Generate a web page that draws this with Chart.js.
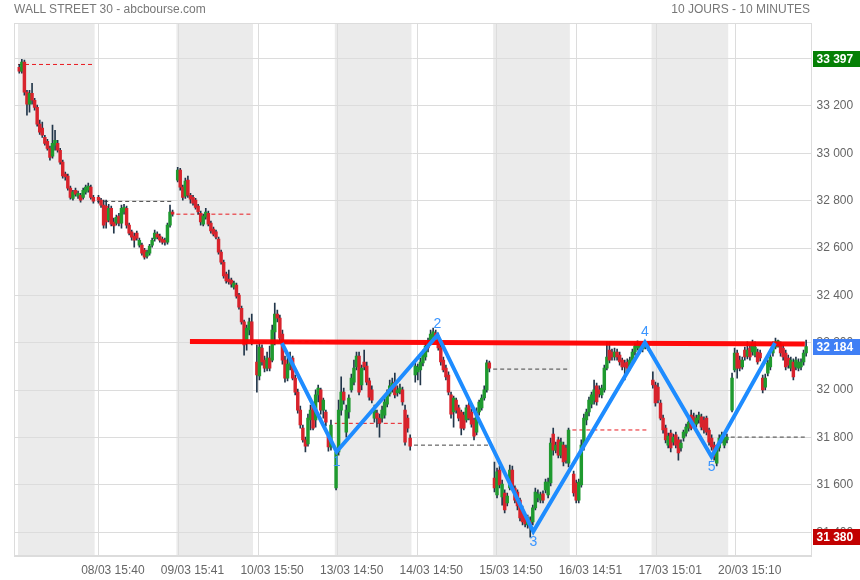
<!DOCTYPE html>
<html><head><meta charset="utf-8">
<script src="https://cdn.jsdelivr.net/npm/chart.js@4/dist/chart.umd.min.js"></script>
<style>
html,body{margin:0;padding:0;background:#fff;}
#wrap{position:relative;width:860px;height:580px;overflow:hidden;}
canvas{position:absolute;left:0;top:0;}
.t{position:absolute;top:2px;font:12px "Liberation Sans",Arial,sans-serif;color:#777;white-space:nowrap;}
</style></head><body>
<div id="wrap">
<canvas id="c" width="860" height="580"></canvas>
<div class="t" style="left:14px">WALL STREET 30 - abcbourse.com</div>
<div class="t" style="right:50px">10 JOURS - 10 MINUTES</div>
</div>
<script>
// ---------- DATA ----------
const sessionNames = ['07/03','08/03','09/03','10/03','13/03','14/03','15/03','16/03','17/03','20/03'];
const xTickLabels = ['08/03 15:40','09/03 15:41','10/03 15:50','13/03 14:50','14/03 14:50','15/03 14:50','16/03 14:51','17/03 15:01','20/03 15:10'];
const yTickValues = [31400,31600,31800,32000,32200,32400,32600,32800,33000,33200,33400];

// candles: [open, high, low, close]
const d0703 = [[33363,33376,33338,33347],[33347,33397,33338,33385],[33385,33393,33245,33258],[33258,33266,33161,33207],[33207,33266,33174,33253],[33253,33295,33207,33224],[33224,33232,33182,33194],[33194,33203,33115,33123],[33123,33140,33080,33089],[33106,33132,33067,33076],[33067,33076,33034,33042],[33051,33059,33013,33021],[33021,33030,32971,32983],[32988,33119,32979,33042],[33034,33097,33013,33055],[33042,33055,33005,33013],[33013,33021,32954,32963],[32963,32971,32895,32904],[32912,32921,32887,32900],[32904,32912,32844,32853],[32853,32862,32806,32814],[32810,32844,32802,32836],[32844,32853,32819,32827],[32819,32840,32810,32831],[32823,32831,32794,32802],[32814,32853,32806,32844],[32836,32866,32827,32857],[32844,32874,32836,32862],[32857,32866,32806,32814],[32814,32823,32789,32798]];
const d0803 = [[32814,32823,32789,32802],[32802,32810,32772,32781],[32781,32802,32684,32697],[32777,32802,32684,32710],[32718,32785,32710,32768],[32768,32777,32693,32701],[32710,32726,32663,32693],[32705,32739,32697,32730],[32735,32747,32693,32705],[32705,32781,32684,32768],[32752,32785,32743,32772],[32768,32777,32684,32697],[32697,32705,32655,32663],[32668,32676,32633,32646],[32651,32663,32604,32633],[32663,32672,32633,32642],[32612,32642,32604,32633],[32612,32621,32570,32578],[32591,32599,32553,32561],[32566,32591,32557,32583],[32578,32616,32570,32608],[32612,32642,32604,32633],[32638,32676,32629,32663],[32659,32668,32638,32646],[32651,32659,32625,32633],[32638,32646,32616,32625],[32633,32642,32612,32625],[32625,32705,32616,32697],[32697,32781,32688,32752],[32752,32760,32735,32743]];
const d0903 = [[32887,32941,32879,32929],[32929,32937,32844,32857],[32857,32866,32802,32814],[32819,32895,32810,32883],[32887,32904,32814,32823],[32823,32831,32789,32806],[32814,32823,32781,32789],[32802,32810,32764,32772],[32777,32785,32743,32752],[32747,32756,32697,32710],[32701,32743,32693,32735],[32730,32768,32722,32752],[32747,32756,32693,32701],[32705,32714,32663,32672],[32680,32688,32651,32659],[32668,32676,32638,32646],[32638,32646,32574,32583],[32583,32591,32532,32540],[32540,32549,32473,32482],[32490,32499,32452,32461],[32469,32507,32448,32457],[32465,32473,32435,32448],[32435,32461,32426,32452],[32444,32452,32388,32397],[32401,32409,32342,32350],[32346,32355,32279,32288],[32288,32296,32148,32191],[32204,32275,32169,32262],[32254,32304,32233,32288],[32288,32321,32191,32204]];
const d1003 = [[32119,32191,31992,32064],[32060,32199,32043,32182],[32178,32191,32106,32119],[32127,32144,32077,32093],[32093,32161,32081,32136],[32136,32186,32081,32093],[32127,32275,32119,32254],[32246,32368,32191,32321],[32321,32338,32288,32304],[32304,32317,32204,32220],[32237,32254,32110,32127],[32127,32144,32034,32051],[32051,32148,32039,32110],[32106,32161,32085,32136],[32136,32144,32043,32051],[32051,32064,31980,31992],[31992,32005,31903,31916],[31916,31933,31840,31853],[31840,31853,31781,31790],[31790,31802,31739,31764],[31773,31899,31764,31882],[31874,31937,31832,31916],[31937,31950,31832,31840],[31874,32001,31844,31980],[31980,32022,31950,32009],[32001,32009,31899,31916],[31916,31967,31882,31958],[31908,31916,31849,31865],[31806,31819,31743,31760],[31760,31874,31747,31853]];
const d1303 = [[31587,31756,31579,31739],[31739,31958,31726,31916],[31916,32056,31895,31992],[31992,32009,31941,31958],[31823,31937,31802,31916],[31908,31980,31882,31967],[32001,32068,31992,32051],[32034,32127,32022,32093],[32098,32161,32085,32144],[32144,32161,31980,31992],[32022,32106,32001,32093],[32119,32169,32085,32098],[32102,32119,32022,32034],[32039,32051,31958,31971],[32001,32018,31946,31958],[31882,31937,31865,31916],[31903,31916,31844,31882],[31882,31899,31802,31861],[31882,31933,31865,31916],[31895,31963,31882,31950],[31941,32001,31929,31984],[31984,32043,31975,32018],[32005,32051,31992,32030],[32034,32072,31967,31980],[31988,32018,31975,32001],[31992,32026,31984,32009],[32001,32013,31937,31950],[31916,31937,31768,31781],[31882,31895,31823,31840],[31798,31811,31747,31764]];
const d1403 = [[32064,32119,32034,32102],[32077,32110,32043,32098],[32085,32136,32022,32119],[32115,32169,32102,32148],[32140,32199,32127,32186],[32199,32220,32161,32178],[32204,32254,32191,32237],[32224,32262,32216,32246],[32241,32254,32208,32220],[32229,32241,32169,32178],[32182,32191,32106,32119],[32127,32140,32077,32085],[32093,32106,32043,32056],[32064,32077,31980,31992],[31980,31992,31882,31899],[31908,31975,31844,31967],[31958,31967,31903,31916],[31925,31937,31870,31882],[31908,31916,31811,31840],[31895,31908,31832,31840],[31874,31937,31865,31925],[31937,31958,31874,31882],[31908,31920,31844,31857],[31874,31882,31790,31806],[31823,31925,31811,31908],[31908,31958,31895,31950],[31925,31980,31916,31967],[31967,32018,31958,32001],[32001,32127,31992,32115],[32115,32123,32077,32093]];
const d1503 = [[31629,31696,31570,31587],[31558,31671,31545,31655],[31663,31680,31587,31600],[31549,31621,31515,31604],[31566,31579,31482,31494],[31524,31566,31511,31553],[31587,31684,31579,31663],[31663,31680,31579,31591],[31587,31596,31524,31536],[31570,31579,31494,31511],[31536,31545,31448,31461],[31494,31511,31431,31444],[31465,31477,31423,31435],[31431,31473,31418,31461],[31452,31465,31380,31423],[31444,31515,31431,31503],[31503,31587,31494,31570],[31545,31579,31528,31562],[31536,31570,31524,31558],[31562,31575,31524,31536],[31579,31625,31566,31612],[31558,31629,31545,31612],[31608,31798,31596,31777],[31815,31840,31726,31747],[31747,31781,31735,31768],[31790,31802,31714,31726],[31726,31798,31714,31781],[31768,31781,31680,31697],[31756,31768,31692,31705],[31692,31840,31676,31832]];
const d1603 = [[31646,31659,31553,31566],[31608,31621,31524,31536],[31536,31625,31524,31612],[31600,31790,31591,31768],[31768,31899,31747,31882],[31874,31920,31853,31908],[31908,31971,31891,31958],[31941,31992,31925,31980],[31958,32043,31941,32001],[32018,32030,31937,31950],[32001,32018,31971,31984],[31980,32022,31967,32009],[32001,32106,31992,32093],[32093,32204,32085,32140],[32169,32204,32115,32127],[32161,32174,32127,32140],[32140,32178,32127,32161],[32161,32174,32127,32140],[32148,32161,32106,32119],[32127,32136,32085,32098],[32115,32127,32043,32098],[32119,32132,32081,32093],[32098,32140,32085,32127],[32127,32174,32115,32161],[32161,32199,32148,32186],[32178,32208,32169,32195],[32169,32199,32157,32186],[32174,32204,32161,32191],[32182,32208,32174,32195],[32186,32199,32169,32178]];
const d1703 = [[32043,32077,32009,32022],[32022,32034,31933,31946],[32013,32030,31946,31958],[31946,31958,31874,31882],[31882,31895,31819,31832],[31840,31853,31777,31790],[31768,31819,31756,31806],[31819,31832,31739,31756],[31781,31815,31768,31802],[31811,31823,31756,31768],[31790,31802,31705,31735],[31756,31790,31743,31777],[31798,31832,31785,31823],[31819,31857,31806,31844],[31840,31878,31827,31865],[31895,31916,31832,31840],[31887,31903,31849,31861],[31857,31895,31844,31882],[31874,31908,31861,31895],[31887,31899,31832,31844],[31874,31887,31819,31832],[31882,31891,31811,31823],[31832,31840,31768,31781],[31798,31811,31747,31760],[31768,31781,31705,31718],[31692,31768,31680,31756],[31756,31811,31743,31798],[31790,31823,31777,31811],[31768,31815,31756,31802],[31790,31815,31777,31802]];
const d2003 = [[31916,32072,31908,32051],[32085,32178,32077,32157],[32157,32169,32051,32093],[32127,32144,32081,32093],[32098,32140,32089,32127],[32169,32182,32127,32140],[32144,32204,32132,32169],[32178,32191,32127,32140],[32161,32212,32148,32199],[32148,32204,32140,32182],[32161,32174,32110,32119],[32157,32169,32123,32136],[32051,32064,31988,32001],[32013,32068,32001,32051],[32072,32127,32060,32115],[32098,32153,32085,32140],[32157,32204,32144,32191],[32182,32220,32174,32204],[32191,32212,32182,32208],[32191,32204,32144,32157],[32178,32191,32127,32140],[32157,32169,32085,32098],[32136,32148,32093,32106],[32093,32140,32081,32127],[32119,32132,32043,32056],[32098,32140,32085,32127],[32093,32132,32081,32119],[32098,32132,32085,32119],[32119,32169,32106,32157],[32157,32212,32144,32184]];
const sessions = [d0703,d0803,d0903,d1003,d1303,d1403,d1503,d1603,d1703,d2003];

// previous-close reference level drawn on each session (null = none)
const prevClose = [33375,32797,32743,32204,31860,31768,32089,31832,null,31802];
const prevCloseDark = [false,true,false,false,false,true,true,false,false,true];

// wave pattern (candle index, price)
const waveIdx = [102.8,124.2,163.7,201.2,244.9,271.0,295.8];
const waveVal = [32199,31740,32233,31403,32201,31719,32199];
const waveLbl = ['','1','2','3','4','5',''];
// resistance line
const resIdx = [66.8,307.5];
const resVal = [32205,32195];

const lastPrice = 32184, highPrice = 33397, lowPrice = 31380;

// ---------- BUILD ----------
const SLOTS = 31;
const GREEN = '#1f9a2f', RED = '#d8232c', WICK = '#22364a';
const wicks = [], bodies = [], bodyCol = [];
sessions.forEach((d,k)=>d.forEach((c,j)=>{
  const x = k*SLOTS + j;
  wicks.push({x, y:[c[2], c[1]]});
  bodies.push({x, y:[c[0], c[3]]});
  bodyCol.push(c[3] >= c[0] ? GREEN : RED);
}));
const dashRed = [], dashDark = [];
prevClose.forEach((v,k)=>{
  if (v == null) return;
  const arr = prevCloseDark[k] ? dashDark : dashRed;
  arr.push({x:k*SLOTS-0.5, y:v},{x:k*SLOTS+29.5, y:v},{x:k*SLOTS+29.7, y:null});
});
const wave = waveIdx.map((x,i)=>({x, y:waveVal[i]}));
const res = resIdx.map((x,i)=>({x, y:resVal[i]}));

const fmt = v => String(v).replace(/\B(?=(\d{3})+(?!\d))/g,' ');
const FONT = '"Liberation Sans", Arial, sans-serif';

const bandsPlugin = {
  id:'bands',
  beforeDraw(ch){
    const {ctx, chartArea:a, scales:{x}} = ch;
    ctx.save();
    ctx.fillStyle = '#ebebeb';
    for (let k=0;k<sessions.length;k+=2){
      const x0 = x.getPixelForValue(k*SLOTS-0.5), x1 = x.getPixelForValue(k*SLOTS+29.5);
      ctx.fillRect(x0, a.top, x1-x0, a.bottom-a.top);
    }
    ctx.restore();
  },
  beforeDatasetsDraw(ch){
    const {ctx, chartArea:a} = ch;
    ctx.save();
    ctx.strokeStyle = '#dcdcdc'; ctx.lineWidth = 1;
    ctx.strokeRect(Math.round(a.left)+0.5, Math.round(a.top)+0.5, Math.round(a.right-a.left)-1, Math.round(a.bottom-a.top)-1);
    ctx.restore();
  },
  afterDraw(ch){
    const {ctx, chartArea:a, scales:{x,y}} = ch;
    ctx.save();
    // wave labels
    ctx.font = '14px ' + FONT; ctx.fillStyle = '#3a95ff';
    ctx.textAlign = 'center'; ctx.textBaseline = 'middle';
    waveLbl.forEach((t,i)=>{
      if (!t) return;
      const px = x.getPixelForValue(waveIdx[i]), py = y.getPixelForValue(waveVal[i]);
      const up = waveVal[i] > waveVal[i-1];
      ctx.fillText(t, px, up ? py-10.5 : py+10.5);
    });
    // price badges
    const badge = (v, col) => {
      const py = Math.round(y.getPixelForValue(v));
      ctx.fillStyle = col;
      ctx.fillRect(a.right+1.5, py-8, 860-a.right, 16);
      ctx.fillStyle = '#fff'; ctx.font = 'bold 12px ' + FONT;
      ctx.textAlign = 'left'; ctx.textBaseline = 'middle';
      ctx.fillText(fmt(v), a.right+5, py+0.5);
    };
    badge(highPrice, '#058005');
    badge(lastPrice, '#3f7ff5');
    badge(lowPrice, '#c20000');
    ctx.restore();
  }
};

new Chart(document.getElementById('c'), {
  type:'bar',
  data:{ datasets:[
    {type:'line', data:wave, borderColor:'#1e8cff', borderWidth:4, pointRadius:0, tension:0, fill:false, order:0, borderJoinStyle:'miter'},
    {type:'line', data:res, borderColor:'rgba(255,0,0,0.96)', borderWidth:5, pointRadius:0, fill:false, order:1},
    {type:'bar', data:bodies, backgroundColor:bodyCol, barThickness:2.8, grouped:false, order:2},
    {type:'bar', data:wicks, backgroundColor:WICK, barThickness:1, grouped:false, order:3},
    {type:'line', data:dashRed, borderColor:'#e8191f', borderWidth:1, borderDash:[4,3], pointRadius:0, spanGaps:false, fill:false, order:4},
    {type:'line', data:dashDark, borderColor:'#444', borderWidth:1, borderDash:[4,3], pointRadius:0, spanGaps:false, fill:false, order:5}
  ]},
  options:{
    responsive:false, animation:false, devicePixelRatio:1,
    layout:{padding:{left:14, top:23, right:0, bottom:0}},
    plugins:{legend:{display:false}, tooltip:{enabled:false}, title:{display:false}},
    scales:{
      x:{ type:'linear', min:-2.07, max:310.1, offset:false,
        afterBuildTicks: s => { s.ticks = xTickLabels.map((t,i)=>({value:(i+1)*31.16})); },
        afterFit: s => { s.height = 24; },
        grid:{color:'#dcdcdc', drawTicks:false, offset:false},
        border:{display:true, color:'#dcdcdc'},
        ticks:{autoSkip:false, maxRotation:0, minRotation:0, padding:7, labelOffset:14, color:'#666', font:{family:FONT, size:12},
          callback:(v,i)=>xTickLabels[i]} },
      y:{ type:'linear', position:'right', min:31300, max:33550,
        afterBuildTicks: s => { s.ticks = yTickValues.map(v=>({value:v})); },
        afterFit: s => { s.width = 48.5; },
        grid:{color:'#dcdcdc', drawTicks:false},
        border:{display:true, color:'#dcdcdc'},
        ticks:{padding:5, color:'#666', font:{family:FONT, size:12}, callback:v=>fmt(v)} }
    }
  },
  plugins:[bandsPlugin]
});
</script>
</body></html>
